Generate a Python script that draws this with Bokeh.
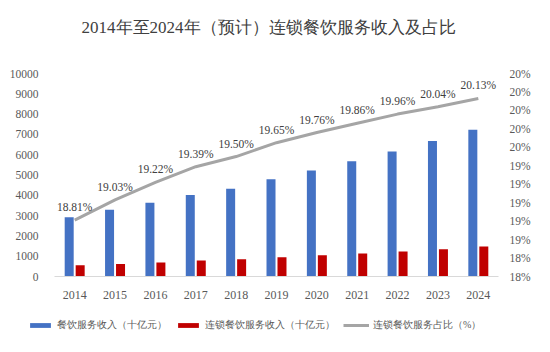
from bokeh.plotting import figure
from bokeh.layouts import column
from bokeh.models import (Range1d, LinearAxis, FixedTicker, CustomJSTickFormatter,
                          ColumnDataSource, Legend, LegendItem, Label)
from bokeh.transform import dodge
from bokeh.core.properties import value
from bokeh.embed import file_html
from bokeh.resources import INLINE

years = [2014, 2015, 2016, 2017, 2018, 2019, 2020, 2021, 2022, 2023, 2024]
catering = [2920, 3290, 3630, 4020, 4320, 4790, 5220, 5680, 6160, 6670, 7230]
chain = [560, 620, 690, 790, 850, 950, 1050, 1130, 1230, 1340, 1480]
share = [18.81, 19.03, 19.22, 19.39, 19.50, 19.65, 19.76, 19.86, 19.96, 20.04, 20.13]
share_labels = ["18.81%", "19.03%", "19.22%", "19.39%", "19.50%", "19.65%",
                "19.76%", "19.86%", "19.96%", "20.04%", "20.13%"]
left_ticks = [0, 1000, 2000, 3000, 4000, 5000, 6000, 7000, 8000, 9000, 10000]
right_ticks = [18.2, 18.4, 18.6, 18.8, 19.0, 19.2, 19.4, 19.6, 19.8, 20.0, 20.2, 20.4]

title = "2014年至2024年（预计）连锁餐饮服务收入及占比"
legend_labels = ["餐饮服务收入（十亿元）", "连锁餐饮服务收入（十亿元）", "连锁餐饮服务占比（%）"]

BLUE = "#4472C4"
RED = "#C00000"
GRAY = "#A5A5A5"
SERIF = "Liberation Serif"

src = ColumnDataSource(dict(year=years, catering=catering, chain=chain,
                            share=share, share_label=share_labels))


def blank(h):
    f = figure(width=550, height=h, output_backend="svg", toolbar_location=None,
               x_range=Range1d(0, 1), y_range=Range1d(0, 1),
               x_axis_location=None, y_axis_location=None, min_border=0,
               frame_align=False)
    f.outline_line_color = None
    f.xgrid.visible = False
    f.ygrid.visible = False
    f.background_fill_color = "white"
    f.border_fill_color = "white"
    return f


# ---- title strip
pt = blank(50)
pt.add_layout(Label(x=268, y=23, x_units="screen", y_units="screen", text=title,
                    text_align="center", text_baseline="middle",
                    text_font=SERIF, text_font_size="17px", text_color="#404040"))

# ---- main chart
p = figure(width=550, height=255, output_backend="svg", toolbar_location=None,
           x_range=Range1d(2013.5, 2024.5), y_range=Range1d(0, 10000),
           min_border_left=54, min_border_right=52, min_border_top=23,
           min_border_bottom=29, frame_align=False)
p.background_fill_color = "white"
p.border_fill_color = "white"
p.outline_line_color = None
p.xgrid.visible = False
p.ygrid.visible = False

p.extra_y_ranges = {"pct": Range1d(18.2, 20.4)}

xa = p.xaxis[0]
xa.ticker = FixedTicker(ticks=years)
xa.major_label_text_font = SERIF
xa.major_label_text_font_size = "12px"
xa.major_label_text_color = "#595959"
xa.axis_line_color = "#D9D9D9"
xa.major_tick_line_color = None
xa.minor_tick_line_color = None
xa.major_label_standoff = 8

ya = p.yaxis[0]
ya.ticker = FixedTicker(ticks=left_ticks)
ya.major_label_text_font = SERIF
ya.major_label_text_font_size = "11.5px"
ya.major_label_text_color = "#595959"
ya.axis_line_color = None
ya.major_tick_line_color = None
ya.minor_tick_line_color = None
ya.major_label_standoff = 10

ra = LinearAxis(y_range_name="pct", ticker=FixedTicker(ticks=right_ticks),
                formatter=CustomJSTickFormatter(code="return Math.round(tick) + '%';"))
ra.major_label_text_font = SERIF
ra.major_label_text_font_size = "11.5px"
ra.major_label_text_color = "#595959"
ra.axis_line_color = None
ra.major_tick_line_color = None
ra.minor_tick_line_color = None
ra.major_label_standoff = 5
p.add_layout(ra, "right")

p.vbar(x=dodge("year", -0.136, range=p.x_range), top="catering", width=0.223,
       source=src, fill_color=BLUE, line_color=None)
p.vbar(x=dodge("year", 0.136, range=p.x_range), top="chain", width=0.223,
       source=src, fill_color=RED, line_color=None)
p.line(x="year", y="share", source=src, y_range_name="pct",
       line_color=GRAY, line_width=3)
p.text(x="year", y="share", text="share_label", source=src, y_range_name="pct",
       y_offset=-13, text_align="center", text_baseline="middle",
       text_font=value(SERIF), text_font_size="11.5px", text_color="#404040")

# ---- legend strip (proxy renderers use the same data, lying outside this strip's ranges)
pl = blank(47)
lr1 = pl.vbar(x="year", top="catering", width=0.1, source=src,
              fill_color=BLUE, line_color=None)
lr2 = pl.vbar(x="year", top="chain", width=0.1, source=src,
              fill_color=RED, line_color=None)
lr3 = pl.line(x="year", y="share", source=src, line_color=GRAY, line_width=3)
legend = Legend(items=[LegendItem(label=legend_labels[0], renderers=[lr1]),
                       LegendItem(label=legend_labels[1], renderers=[lr2]),
                       LegendItem(label=legend_labels[2], renderers=[lr3])],
                orientation="horizontal", location=(27, 17),
                glyph_width=26, glyph_height=6, label_standoff=4, spacing=8,
                padding=0, margin=0, border_line_color=None,
                background_fill_alpha=0, label_text_font=SERIF,
                label_text_font_size="10px", label_text_color="#595959",
                label_height=20)
pl.add_layout(legend, "center")

layout = column(pt, p, pl, spacing=0)
open("out.html", "w").write(file_html(layout, INLINE))
